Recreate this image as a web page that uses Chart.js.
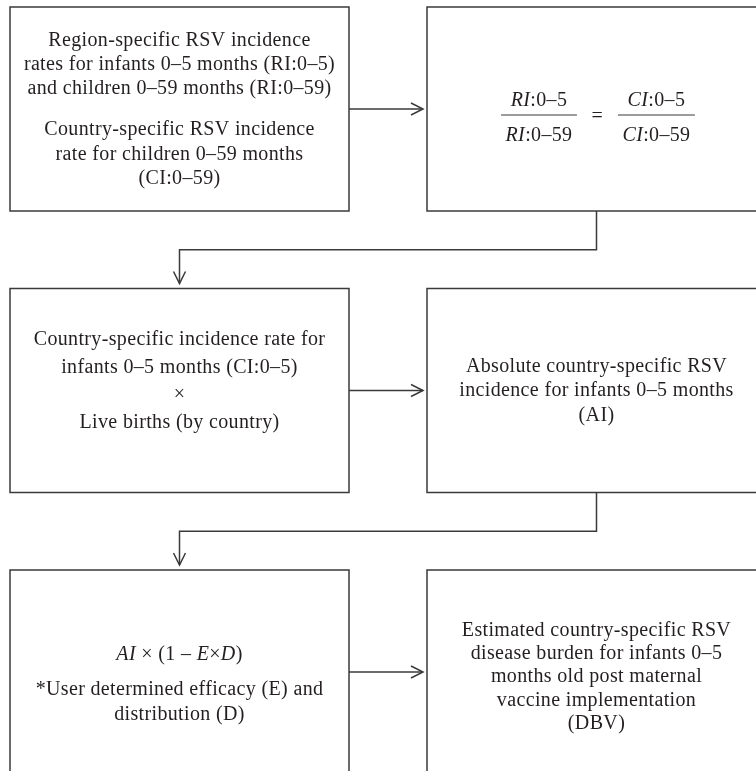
<!DOCTYPE html>
<html>
<head>
<meta charset="utf-8">
<script src="https://cdn.jsdelivr.net/npm/chart.js@4"></script>
<style>
  html, body { margin: 0; padding: 0; background: #fff; }
  #flow { display: block; }
</style>
</head>
<body>
<canvas id="flow" width="756" height="771"></canvas>
<script>
// steps of the flow, text between _underscores_ is italic
const stepText = [
  ["Region-specific RSV incidence", "rates for infants 0–5 months (RI:0–5)", "and children 0–59 months (RI:0–59)", "", "Country-specific RSV incidence", "rate for children 0–59 months", "(CI:0–59)"],
  [],
  ["Country-specific incidence rate for", "infants 0–5 months (CI:0–5)", "×", "Live births (by country)"],
  ["Absolute country-specific RSV", "incidence for infants 0–5 months", "(AI)"],
  ["_AI_ × (1 – _E_×_D_)", "", "*User determined efficacy (E) and", "distribution (D)"],
  ["Estimated country-specific RSV", "disease burden for infants 0–5", "months old post maternal", "vaccine implementation", "(DBV)"]
];
const ratioNumerators = ["_RI_:0–5", "_CI_:0–5"];
const ratioDenominators = ["_RI_:0–59", "_CI_:0–59"];
const stepColumn = [0, 1, 0, 1, 0, 1];
const stepRow = [0, 0, 1, 1, 2, 2];
const flowFrom = [0, 1, 2, 3, 4];
const flowTo = [1, 2, 3, 4, 5];

// layout (pixels)
const W = 756, H = 771;
const colPx = [179.5, 596.5];
const rowPx = [109, 390.5, 672];
const boxW = 339, boxH = 204;
const textLayout = [
  { lh: 24.3, gap: 17, dy: 0.5 },
  { lh: 0, gap: 0, dy: 0 },
  { lh: 27.5, gap: 0, dy: -9.5 },
  { lh: 24.5, gap: 0, dy: 0.5 },
  { lh: 25, gap: 10, dy: 13 },
  { lh: 23.3, gap: 0, dy: 5 }
];
const FONT_SIZE = 20;
const FONT_FAMILY = '"Liberation Serif", "DejaVu Serif", serif';
const INK = "#231f20";
const LINE = "#3a3a3a";

const colUnit = colPx[1] - colPx[0];
const rowUnit = rowPx[1] - rowPx[0];

function segments(str) {
  return str.split("_").map((t, i) => ({ t, italic: i % 2 === 1 })).filter(s => s.t.length);
}

function setFont(ctx, italic) {
  ctx.font = (italic ? "italic " : "") + FONT_SIZE + "px " + FONT_FAMILY;
  ctx.letterSpacing = "0.35px";
}

function richWidth(ctx, str) {
  let w = 0;
  segments(str).forEach(s => { setFont(ctx, s.italic); w += ctx.measureText(s.t).width; });
  return w;
}

function drawRich(ctx, str, cx, y) {
  let x = cx - richWidth(ctx, str) / 2;
  ctx.textAlign = "left";
  ctx.textBaseline = "middle";
  segments(str).forEach(s => {
    setFont(ctx, s.italic);
    ctx.fillText(s.t, x, y);
    x += ctx.measureText(s.t).width;
  });
}

function arrowHead(ctx, x, y, dir) {
  const len = 12, half = 6;
  ctx.beginPath();
  if (dir === "right") {
    ctx.moveTo(x - len, y - half); ctx.lineTo(x, y); ctx.lineTo(x - len, y + half);
  } else {
    ctx.moveTo(x - half, y - len); ctx.lineTo(x, y); ctx.lineTo(x + half, y - len);
  }
  ctx.stroke();
}

const flowPlugin = {
  id: "flowchart",
  afterDatasetsDraw(chart) {
    const ctx = chart.ctx;
    const pts = chart.getDatasetMeta(0).data;
    ctx.save();
    ctx.strokeStyle = LINE;
    ctx.lineWidth = 1.5;
    ctx.fillStyle = INK;

    // boxes
    pts.forEach(p => {
      ctx.strokeRect(p.x - boxW / 2, p.y - boxH / 2, boxW, boxH);
    });

    // connectors
    flowFrom.forEach((f, i) => {
      const a = pts[f], b = pts[flowTo[i]];
      if (stepRow[f] === stepRow[flowTo[i]]) {
        const x0 = a.x + boxW / 2, x1 = b.x - boxW / 2 - 4;
        ctx.beginPath(); ctx.moveTo(x0, a.y); ctx.lineTo(x1, a.y); ctx.stroke();
        arrowHead(ctx, x1, a.y, "right");
      } else {
        const y0 = a.y + boxH / 2, y2 = b.y - boxH / 2 - 5;
        const ym = (y0 + b.y - boxH / 2) / 2;
        ctx.beginPath();
        ctx.moveTo(a.x, y0); ctx.lineTo(a.x, ym); ctx.lineTo(b.x, ym); ctx.lineTo(b.x, y2);
        ctx.stroke();
        arrowHead(ctx, b.x, y2, "down");
      }
    });

    // text blocks
    stepText.forEach((lines, i) => {
      if (!lines.length) return;
      const p = pts[i], tl = textLayout[i];
      let span = 0;
      lines.forEach((l, k) => {
        if (k === 0) return;
        span += l === "" ? tl.gap : tl.lh;
      });
      let y = p.y + tl.dy - span / 2;
      lines.forEach((l, k) => {
        if (l === "") { y += tl.gap; return; }
        if (k > 0) y += tl.lh;
        drawRich(ctx, l, p.x, y);
      });
    });

    // ratio box
    const r = pts[1];
    const fracW = ratioNumerators.map((n, i) => Math.max(richWidth(ctx, n), richWidth(ctx, ratioDenominators[i])) + 9);
    const eqGap = 41;
    const total = fracW[0] + eqGap + fracW[1];
    let x = r.x + 1.5 - total / 2;
    const barY = r.y + 6;
    ratioNumerators.forEach((n, i) => {
      const cx = x + fracW[i] / 2;
      drawRich(ctx, n, cx, r.y - 8.7);
      drawRich(ctx, ratioDenominators[i], cx, r.y + 26.3);
      ctx.beginPath(); ctx.lineWidth = 1.2;
      ctx.moveTo(x, barY); ctx.lineTo(x + fracW[i], barY); ctx.stroke();
      x += fracW[i];
      if (i === 0) {
        drawRich(ctx, "=", x + eqGap / 2, r.y + 8);
        x += eqGap;
      }
    });
    ctx.restore();
  }
};

new Chart(document.getElementById("flow").getContext("2d"), {
  type: "scatter",
  data: {
    datasets: [{
      data: stepColumn.map((c, i) => ({ x: c, y: stepRow[i] })),
      pointRadius: 0,
      pointHoverRadius: 0
    }]
  },
  options: {
    responsive: false,
    animation: false,
    events: [],
    layout: { padding: 0 },
    plugins: { legend: { display: false }, tooltip: { enabled: false } },
    scales: {
      x: { type: "linear", display: false, min: -colPx[0] / colUnit, max: (W - colPx[0]) / colUnit },
      y: { type: "linear", display: false, reverse: true, min: -rowPx[0] / rowUnit, max: (H - rowPx[0]) / rowUnit }
    }
  },
  plugins: [flowPlugin]
});
</script>
</body>
</html>
